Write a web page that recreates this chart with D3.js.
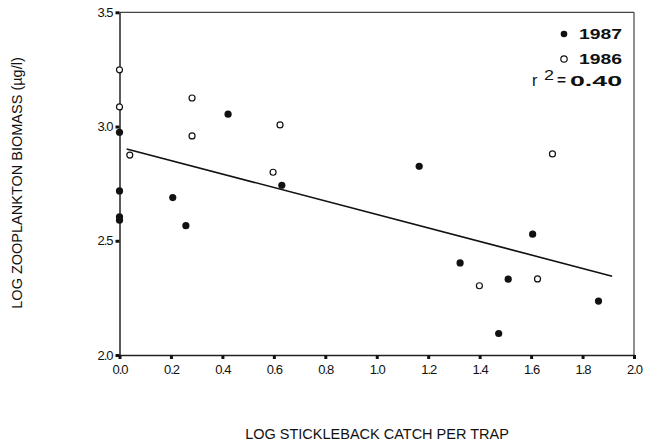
<!DOCTYPE html>
<html>
<head>
<meta charset="utf-8">
<script src="https://cdn.jsdelivr.net/npm/d3@7"></script>
<style>
  body { margin: 0; background: #fff; }
  text { font-family: "Liberation Sans", Arial, sans-serif; fill: #111; }
</style>
</head>
<body>
<div id="chart"></div>
<script>
// dados
const x1987 = [0, 0, 0, 0, 0.207, 0.258, 0.422, 0.631, 1.165, 1.324, 1.474, 1.511, 1.606, 1.862];
const y1987 = [2.975, 2.718, 2.605, 2.59, 2.689, 2.566, 3.054, 2.743, 2.826, 2.403, 2.094, 2.332, 2.529, 2.236];
const x1986 = [0, 0, 0.04, 0.282, 0.282, 0.597, 0.624, 1.399, 1.625, 1.683];
const y1986 = [3.248, 3.086, 2.875, 3.125, 2.959, 2.80, 3.007, 2.303, 2.333, 2.88];
const fitX = [0.028, 1.915];
const fitY = [2.902, 2.345];
const xTicks = [0, 0.2, 0.4, 0.6, 0.8, 1.0, 1.2, 1.4, 1.6, 1.8, 2.0];
const yTicks = [2.0, 2.5, 3.0, 3.5];
const r2Value = "0.40";

const W = 646, H = 442;
const margin = { top: 12.3, right: 12, bottom: 87, left: 119.5 };
const width = W - margin.left - margin.right;
const height = H - margin.top - margin.bottom;

const x = d3.scaleLinear().domain([0, 2]).range([0, width]);
const y = d3.scaleLinear().domain([2, 3.5]).range([height, 0]);

const root = d3.select("#chart").append("svg")
  .attr("width", W)
  .attr("height", H);

const svg = root.append("g")
  .attr("transform", `translate(${margin.left},${margin.top})`);

// moldura (topo e direita)
svg.append("line")
  .attr("x1", 0).attr("x2", width).attr("y1", 0).attr("y2", 0)
  .attr("stroke", "#444").attr("stroke-width", 1.2);
svg.append("line")
  .attr("x1", width).attr("x2", width).attr("y1", 0).attr("y2", height)
  .attr("stroke", "#444").attr("stroke-width", 1.2);

// eixo x
const gx = svg.append("g")
  .attr("transform", `translate(0,${height})`)
  .call(d3.axisBottom(x)
    .tickValues(xTicks)
    .tickSize(4)
    .tickSizeOuter(0)
    .tickPadding(6)
    .tickFormat(d3.format(".1f")));

// eixo y
const gy = svg.append("g")
  .call(d3.axisLeft(y)
    .tickValues(yTicks)
    .tickSize(4)
    .tickSizeOuter(0)
    .tickPadding(3)
    .tickFormat(d3.format(".1f")));

[gx, gy].forEach(g => {
  g.select(".domain").attr("stroke", "#222").attr("stroke-width", 1.5);
  g.selectAll(".tick line").attr("stroke", "#111").attr("stroke-width", 3);
  g.selectAll(".tick text")
    .style("font-size", "13px")
    .style("letter-spacing", "-1px")
    .attr("fill", "#222");
});

// linha de regressão
svg.append("line")
  .attr("x1", x(fitX[0])).attr("y1", y(fitY[0]))
  .attr("x2", x(fitX[1])).attr("y2", y(fitY[1]))
  .attr("stroke", "#111")
  .attr("stroke-width", 1.6);

// pontos 1986 (abertos)
svg.selectAll(".p86")
  .data(d3.zip(x1986, y1986))
  .join("circle")
  .attr("class", "p86")
  .attr("cx", d => x(d[0]))
  .attr("cy", d => y(d[1]))
  .attr("r", 3)
  .attr("fill", "#fff")
  .attr("stroke", "#111")
  .attr("stroke-width", 1.2);

// pontos 1987 (cheios)
svg.selectAll(".p87")
  .data(d3.zip(x1987, y1987))
  .join("circle")
  .attr("class", "p87")
  .attr("cx", d => x(d[0]))
  .attr("cy", d => y(d[1]))
  .attr("r", 3.6)
  .attr("fill", "#111");

// legenda (fonte larga: esticada com textLength)
const leg = root.append("g").style("font-size", "15px").style("font-weight", "bold");
leg.append("circle").attr("cx", 564).attr("cy", 34).attr("r", 3.3).attr("fill", "#111");
leg.append("text").attr("x", 579).attr("y", 39)
  .attr("textLength", 43).attr("lengthAdjust", "spacingAndGlyphs")
  .text("1987");
leg.append("circle").attr("cx", 564).attr("cy", 59).attr("r", 3.2)
  .attr("fill", "#fff").attr("stroke", "#111").attr("stroke-width", 1.2);
leg.append("text").attr("x", 579).attr("y", 64)
  .attr("textLength", 43).attr("lengthAdjust", "spacingAndGlyphs")
  .text("1986");
leg.append("text").attr("x", 532).attr("y", 86)
  .style("font-weight", "normal").style("font-size", "16px")
  .text("r");
leg.append("text").attr("x", 544).attr("y", 80)
  .style("font-weight", "normal").style("font-size", "14px")
  .attr("textLength", 10).attr("lengthAdjust", "spacingAndGlyphs")
  .text("2");
leg.append("text").attr("x", 557).attr("y", 85)
  .attr("textLength", 9).attr("lengthAdjust", "spacingAndGlyphs")
  .text("=");
leg.append("text").attr("x", 570).attr("y", 86)
  .attr("textLength", 52).attr("lengthAdjust", "spacingAndGlyphs")
  .text(r2Value);

// títulos dos eixos
root.append("text")
  .attr("transform", `translate(22,183) rotate(-90)`)
  .attr("text-anchor", "middle")
  .style("font-size", "14.5px")
  .text("LOG  ZOOPLANKTON BIOMASS (µg/l)");

root.append("text")
  .attr("x", 377)
  .attr("y", 439)
  .attr("text-anchor", "middle")
  .style("font-size", "14.5px")
  .text("LOG STICKLEBACK CATCH PER TRAP");
</script>
</body>
</html>
